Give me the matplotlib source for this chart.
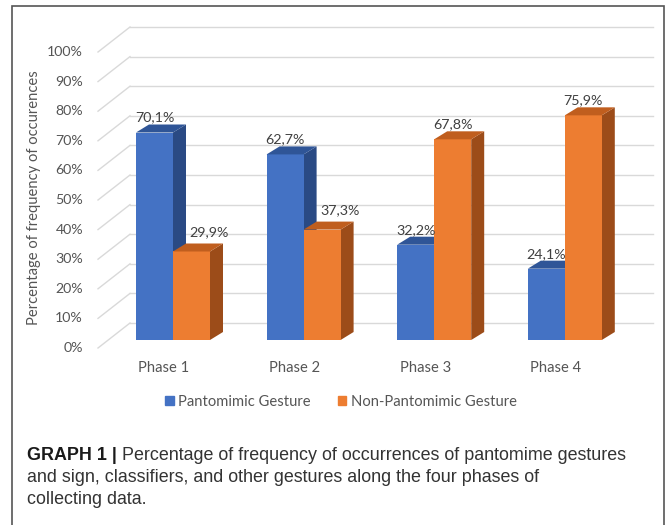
import matplotlib.pyplot as plt
from matplotlib.patches import Polygon, Rectangle

phases = ["Phase 1", "Phase 2", "Phase 3", "Phase 4"]
pantomimic = [70.1, 62.7, 32.2, 24.1]
non_pantomimic = [29.9, 37.3, 67.8, 75.9]
series_names = ["Pantomimic Gesture", "Non-Pantomimic Gesture"]
yticks = [0, 10, 20, 30, 40, 50, 60, 70, 80, 90, 100]

# front / top / side shades for the two series
blue = ("#4472C4", "#2F5597", "#2A4A84")
orange = ("#ED7D31", "#C05E1E", "#9C4C19")
txt = "#555555"
grid = "#D9D9D9"

W, H = 667, 525
PX, PY = 130.6, 2.96          # pixels per category / per percent
fig = plt.figure(figsize=(W / 100, H / 100), dpi=100)
ax = fig.add_axes([107.7 / W, (H - 340) / H, 4 * PX / W, 100 * PY / H])
ax.set_xlim(-0.5, 3.5)
ax.set_ylim(0, 100)
ax.axis("off")

font = "Lato"
fs = 10.6
w = 37 / PX                   # bar width
ddx, ddy = 13 / PX, 8 / PY    # bar depth
back_dx, back_dy = -43 / PX, 17 / PY   # back wall offset
front_dx, front_dy = -75 / PX, -8 / PY  # axis labels plane

# back wall gridlines + side wall diagonals
for v in yticks:
    ax.plot([back_dx, (653 - 173) / PX], [v + back_dy] * 2, color=grid, lw=1, clip_on=False, zorder=0)
    ax.plot([front_dx, back_dx], [v + front_dy, v + back_dy], color=grid, lw=1, clip_on=False, zorder=0)
    ax.text((83 - 173) / PX, v + front_dy, f"{v}%", ha="right", va="center",
            fontsize=10.2, color=txt, family=font)


def box(x0, v, cols):
    # front face via bar, then top and side faces
    ax.bar(x0, v, w, align="edge", color=cols[0], zorder=2)
    top = [(x0, v), (x0 + ddx, v + ddy), (x0 + w + ddx, v + ddy), (x0 + w, v)]
    side = [(x0 + w, 0), (x0 + w + ddx, ddy), (x0 + w + ddx, v + ddy), (x0 + w, v)]
    ax.add_patch(Polygon(top, closed=True, fc=cols[1], ec="none", zorder=2))
    ax.add_patch(Polygon(side, closed=True, fc=cols[2], ec="none", zorder=1.5))


for i, (a, b) in enumerate(zip(pantomimic, non_pantomimic)):
    box(i - w, a, blue)
    box(i, b, orange)
    ax.text(i - w / 2, a + ddy + 7 / PY, f"{a:.1f}%".replace(".", ","), ha="center", va="center",
            fontsize=10.3, color="#404040", family=font, zorder=3)
    shift = 18 / PX if a > b else 0
    lift = 11 / PY if a > b else 7 / PY
    ax.text(i + w / 2 + shift, b + ddy + lift, f"{b:.1f}%".replace(".", ","), ha="center", va="center",
            fontsize=10.3, color="#404040", family=font, zorder=3)
    ax.text(i - 9 / PX, -28 / PY, phases[i], ha="center", va="center",
            fontsize=fs, color=txt, family=font)

fig.text(34 / W, 1 - 198 / H, "Percentage of frequency of occurences", rotation=90,
         ha="center", va="center", fontsize=fs, color=txt, family=font)

handles = [Rectangle((0, 0), 1, 1, color=blue[0]), Rectangle((0, 0), 1, 1, color=orange[0])]
fig.legend(handles, series_names, loc="center", bbox_to_anchor=(341 / W, 1 - 402 / H), ncol=2,
           frameon=False, handlelength=0.6, handleheight=0.6, handletextpad=0.3,
           columnspacing=1.8, prop={"family": font, "size": fs}, labelcolor=txt)

# caption
cap = dict(fontsize=12.9, family="Liberation Sans", va="center")
t = fig.text(27 / W, 1 - 456 / H, "GRAPH 1 |", weight="bold", color="#1a1a1a", **cap)
ax.annotate("Percentage of frequency of occurrences of pantomime gestures", xy=(1, 0.5),
            xycoords=t, xytext=(4, 0), textcoords="offset points", ha="left",
            color="#333333", annotation_clip=False, **cap)
fig.text(27 / W, 1 - 477 / H, "and sign, classifiers, and other gestures along the four phases of",
         color="#333333", **cap)
fig.text(27 / W, 1 - 499 / H, "collecting data.", color="#333333", **cap)

fig.patches.append(Rectangle((12 / W, -0.01), 652 / W, 1.01 - 6 / H, transform=fig.transFigure,
                             fill=False, ec="#555555", lw=1.2))

fig.savefig("out.png", dpi=100)
